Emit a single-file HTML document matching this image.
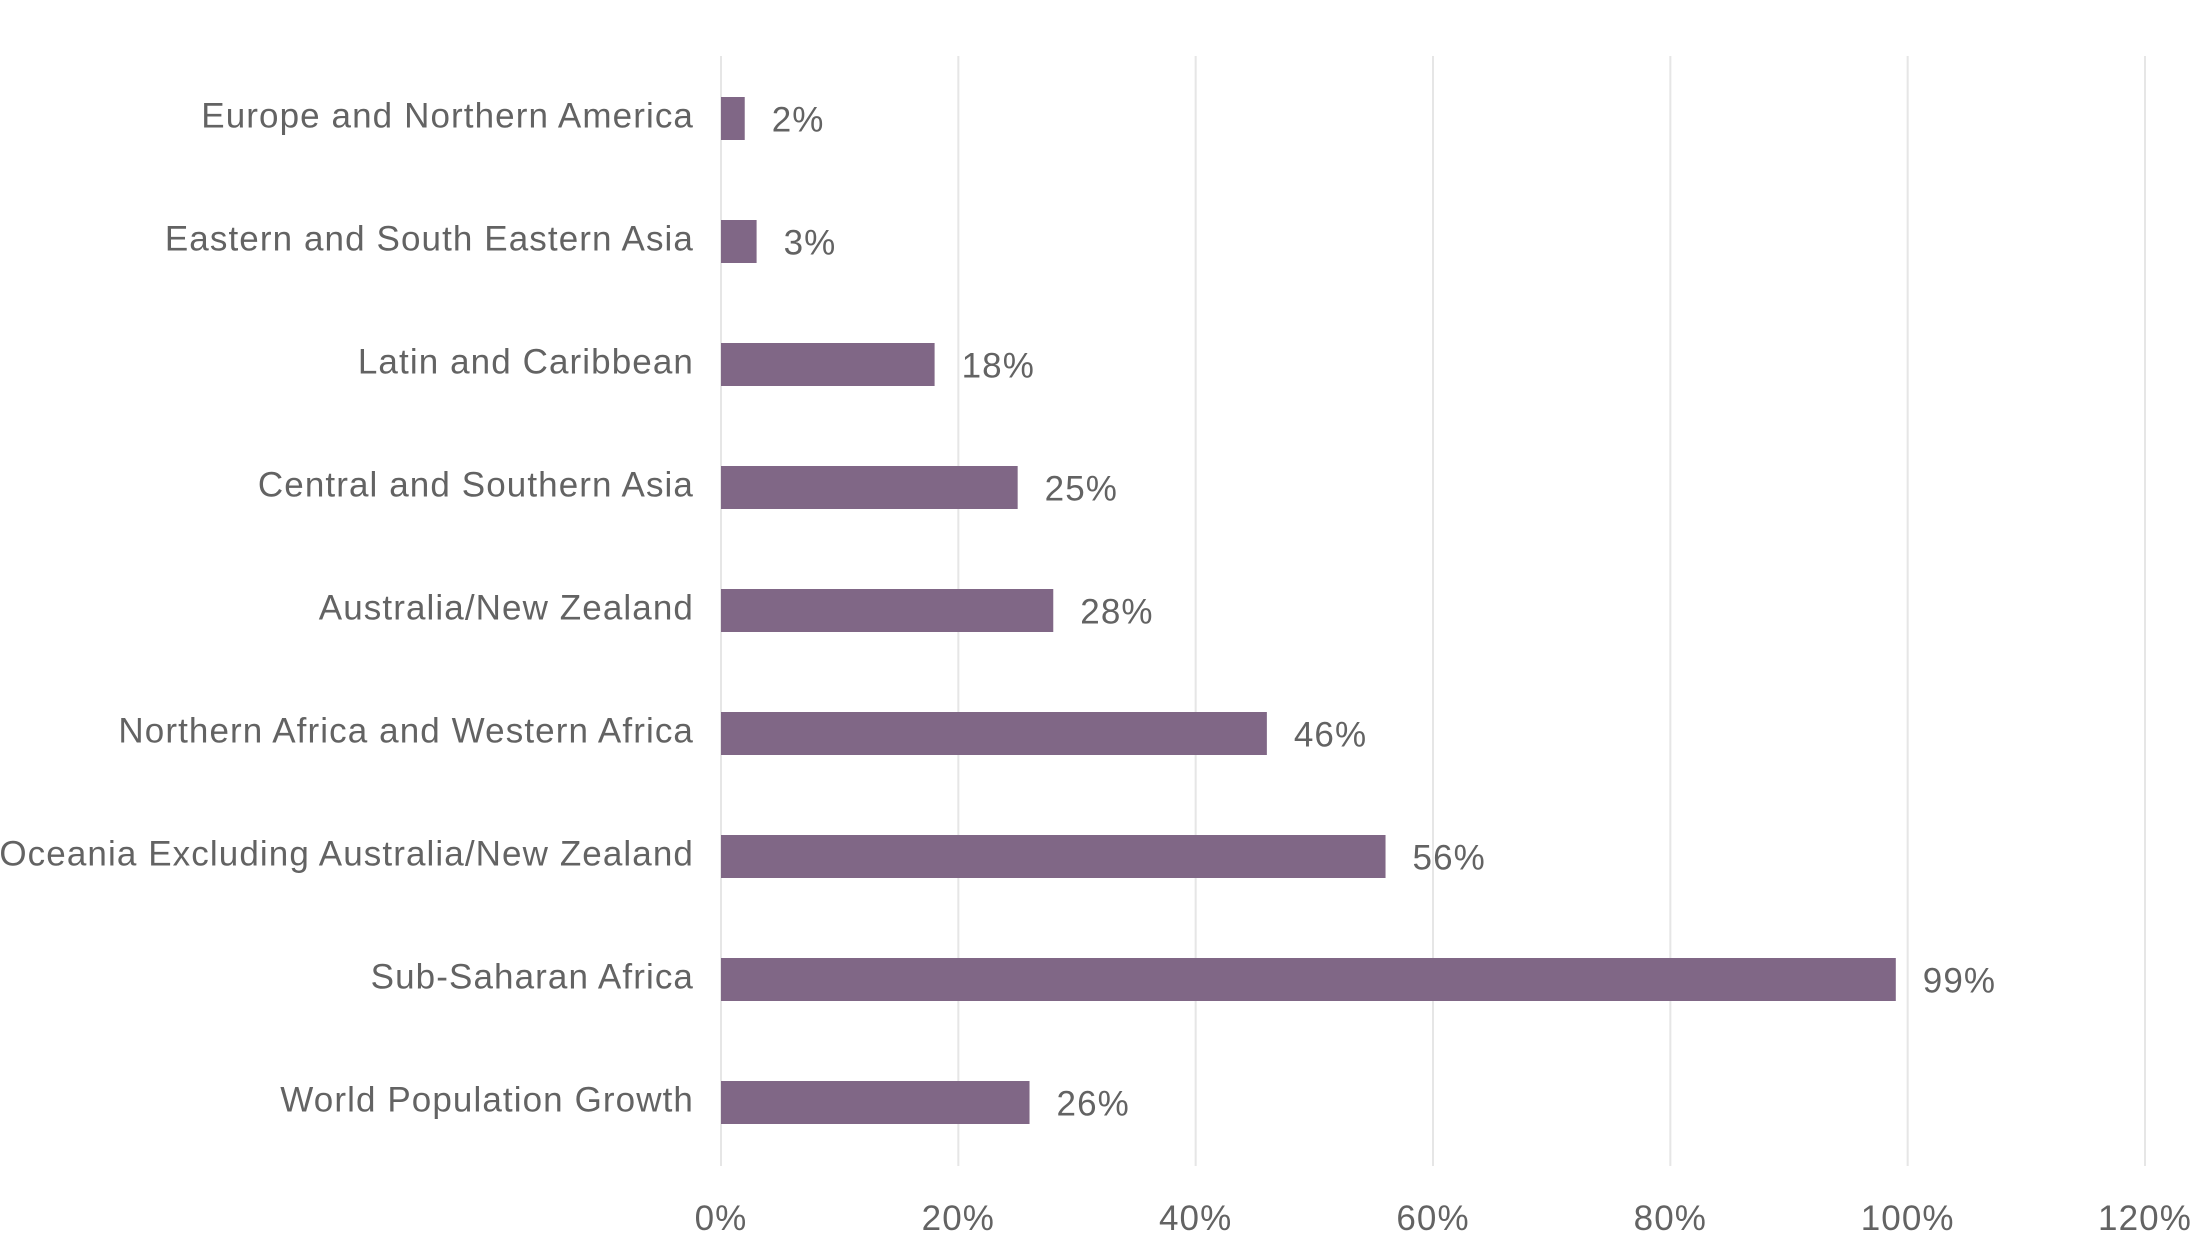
<!DOCTYPE html>
<html><head><meta charset="utf-8"><style>
body{margin:0;background:#fff;width:2191px;height:1242px;overflow:hidden}
svg text{font-family:"Liberation Sans",sans-serif;fill:#636363;font-size:35px;letter-spacing:1.1px}
</style></head><body>
<svg id="chart" width="2191" height="1242" xmlns="http://www.w3.org/2000/svg"></svg>
<script>
const categories=["Europe and Northern America","Eastern and South Eastern Asia","Latin and Caribbean","Central and Southern Asia","Australia/New Zealand","Northern Africa and Western Africa","Oceania Excluding Australia/New Zealand","Sub-Saharan Africa","World Population Growth"];
const values=[2,3,18,25,28,46,56,99,26];
const ticks=[0,20,40,60,80,100,120];
const tickLabels=["0%","20%","40%","60%","80%","100%","120%"];
const svg=document.getElementById('chart');
const NS="http://www.w3.org/2000/svg";
const x0=721,x1=2145,xMax=120;
const xs=v=>x0+(x1-x0)*v/xMax;
const yTop=57,band=123;
const yc=i=>yTop+band*(i+0.5);
function el(t,a){const e=document.createElementNS(NS,t);for(const k in a)e.setAttribute(k,a[k]);svg.appendChild(e);return e;}
ticks.forEach((t,i)=>{
  const g=el('line',{x1:xs(t),x2:xs(t),y1:56,y2:1166,stroke:'#e6e6e6','stroke-width':2});
  
  
  const tl=el('text',{x:xs(t),y:1230,'text-anchor':'middle'});
  tl.textContent=tickLabels[i];
  
  
});
categories.forEach((c,i)=>{
  const y=yc(i);
  const l=el('text',{x:694,y:y+9,'text-anchor':'end'});
  l.textContent=c;
  
  
  const b=el('rect',{x:x0,y:y-21.5,width:xs(values[i])-x0,height:43,fill:'#806786'});
  
  
  const v=el('text',{x:xs(values[i])+27,y:y+13});
  v.textContent=values[i]+'%';
  
  
});
</script>
</body></html>
